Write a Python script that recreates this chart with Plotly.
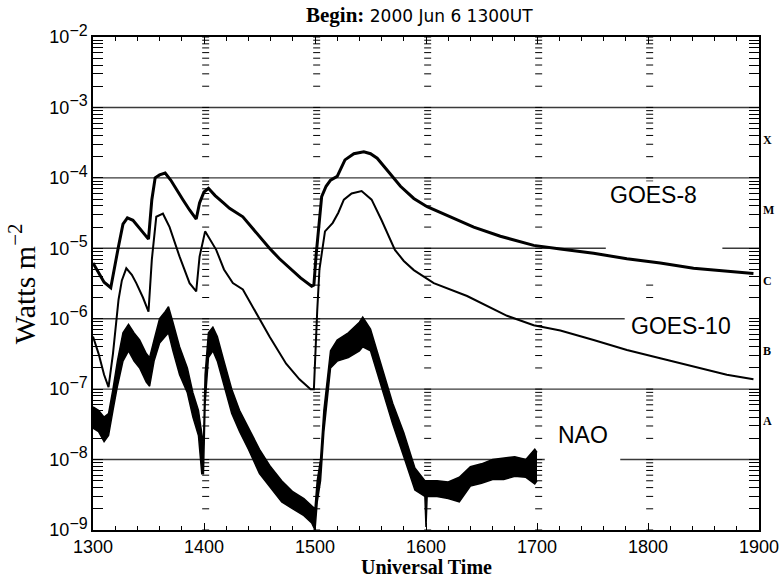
import plotly.graph_objects as go

# ---------------- data ----------------
goes8_t = [1300,1305,1310,1316,1320, 1323,1327,1331,1336,1342, 1350,1353,1356,1360,1365,
           1370,1375,1381,1387,1393, 1396,1400,1404,1410,1417, 1423,1435,1447,1459,1468,
           1477,1487,1497,1499,1501, 1503,1506,1510,1514,1520, 1527,1535,1544,1550,1556,
           1566,1577,1589,1601,1622, 1643,1667,1697,1721,1751, 1781,1811,1841,1871,1895]
goes8_v = [6.2e-6,4.5e-6,3.3e-6,2.75e-6,5.6e-6, 1.07e-5,2.2e-5,2.7e-5,2.5e-5,1.9e-5,
           1.35e-5,4.9e-5,1.0e-4,1.1e-4,1.17e-4, 9.3e-5,6.8e-5,4.9e-5,3.5e-5,2.6e-5,
           4.4e-5,6.3e-5,7.1e-5,5.6e-5,4.5e-5, 3.7e-5,2.8e-5,1.66e-5,1.0e-5,7.1e-6,
           5.2e-6,3.8e-6,2.9e-6,3.0e-6,8.0e-6, 1.6e-5,5.4e-5,7.6e-5,9.3e-5,1.05e-4,
           1.8e-4,2.2e-4,2.35e-4,2.2e-4,1.9e-4, 1.23e-4,7.6e-5,5.1e-5,3.9e-5,2.8e-5,
           2.0e-5,1.48e-5,1.1e-5,9.8e-6,8.5e-6, 7.1e-6,6.2e-6,5.2e-6,4.7e-6,4.4e-6]

goes10_t = [1300,1305,1310,1314,1318, 1323,1326,1330,1335,1339, 1345,1350,1353,1357,1363,
            1369,1378,1387,1393,1396, 1401,1406,1411,1418,1426, 1435,1447,1459,1474,1486,
            1496,1499,1502,1504,1509, 1516,1521,1526,1533,1542, 1551,1560,1572,1580,1589,
            1607,1637,1673,1697,1721, 1751,1781,1811,1841,1871, 1895]
goes10_v = [5.6e-7,3.2e-7,1.6e-7,1.07e-7,3.2e-7, 1.86e-6,3.5e-6,5.2e-6,4.2e-6,3.2e-6,
            2.0e-6,1.26e-6,6.9e-6,2.8e-5,3.1e-5, 2.0e-5,7.6e-6,3.2e-6,2.45e-6,7.6e-6,
            1.74e-5,1.3e-5,9.5e-6,5.0e-6,3.2e-6, 2.6e-6,1.2e-6,5.6e-7,2.3e-7,1.38e-7,
            1.0e-7,1.0e-7,1.3e-6,5e-6,1.74e-5, 2.3e-5,3.2e-5,4.9e-5,6.0e-5,6.5e-5,
            4.9e-5,2.5e-5,9.5e-6,6.6e-6,4.9e-6, 3.2e-6,2.1e-6,1.1e-6,8.1e-7,6.8e-7,
            5.0e-7,3.6e-7,2.75e-7,2.1e-7,1.6e-7, 1.38e-7]

nao_t = [1300,1305,1310,1314,1318, 1322,1327,1332,1337,1342, 1348,1351,1355,1360,1365,
         1368,1372,1378,1385,1390, 1395,1398,1399.5,1401,1404, 1408,1412,1418,1425,1432,
         1440,1450,1460,1470,1480, 1490,1497,1500,1502,1505, 1508,1511,1514,1520,1530,
         1540,1543,1550,1560,1570, 1580,1590,1599,1600,1601, 1610,1620,1630,1640,1650,
         1660,1670,1680,1690,1698, 1700]
nao_hi = [5.6e-8,5.0e-8,4.0e-8,4.5e-8,1.0e-7, 2.5e-7,6.3e-7,8.3e-7,6.3e-7,5.0e-7,
          3.2e-7,2.8e-7,5.0e-7,1.0e-6,1.26e-6, 1.48e-6,8.9e-7,4.0e-7,2.0e-7,8.9e-8,
          5.0e-8,2.5e-8,1.6e-8,1.6e-7,6.3e-7, 7.6e-7,5.6e-7,2.5e-7,1.0e-7,5.0e-8,
          2.8e-8,1.4e-8,7.9e-9,5.0e-9,3.5e-9, 2.8e-9,2.2e-9,2.0e-9,5.0e-9,1.0e-8,
          5.0e-8,1.26e-7,3.5e-7,5.0e-7,6.3e-7, 8.9e-7,1.05e-6,7.1e-7,2.2e-7,6.3e-8,
          2.4e-8,7.6e-9,5.0e-9,5.0e-9,5.0e-9, 5.0e-9,4.8e-9,5.6e-9,7.9e-9,8.7e-9,
          1.0e-8,1.05e-8,1.1e-8,1.0e-8,1.4e-8, 1.26e-8]
nao_lo = [2.8e-8,2.5e-8,1.8e-8,2.2e-8,5.0e-8, 1.1e-7,2.5e-7,3.5e-7,2.5e-7,2.0e-7,
          1.26e-7,1.1e-7,2.5e-7,4.5e-7,5.6e-7, 6.3e-7,3.5e-7,1.6e-7,8.9e-8,4.0e-8,
          2.2e-8,6.3e-9,6.3e-9,6.3e-8,2.8e-7, 3.5e-7,2.5e-7,1.1e-7,4.5e-8,2.5e-8,
          1.4e-8,6.3e-9,4.0e-9,2.5e-9,2.0e-9, 1.6e-9,1.26e-9,1.0e-9,2.5e-9,5.0e-9,
          2.5e-8,7.9e-8,2.0e-7,2.5e-7,2.8e-7, 3.5e-7,4.0e-7,3.5e-7,1.05e-7,3.2e-8,
          1.1e-8,3.7e-9,3.0e-9,1.1e-9,3.0e-9, 3.0e-9,2.8e-9,2.5e-9,4.2e-9,4.6e-9,
          5.2e-9,5.2e-9,5.8e-9,5.6e-9,4.5e-9, 5.0e-9]

x_tick_vals = [1300, 1400, 1500, 1600, 1700, 1800, 1900]
decade_exps = [-9, -8, -7, -6, -5, -4, -3, -2]
dash_columns = [1400, 1500, 1600, 1700, 1800]
class_letters = ["A", "B", "C", "M", "X"]
class_levels = [-7.5, -6.5, -5.5, -4.5, -3.5]       # log10 W m^-2
series_labels = ["GOES-8", "GOES-10", "NAO"]
series_label_t = [1805, 1830, 1741]
series_label_log = [-4.25, -6.11, -7.65]
# blank regions behind the labels (t0, t1, log_lo, log_hi)
label_masks = [(1762, 1867, -5.45, -4.05), (1779, 1900, -6.75, -5.9), (1707, 1775, -8.1, -7.3)]

# ---------------- figure ----------------
fig = go.Figure()

# horizontal decade lines
for e in decade_exps[1:-1]:
    fig.add_trace(go.Scatter(x=[1300, 1900], y=[10.0 ** e] * 2, mode="lines",
                             line=dict(color="#3a3a3a", width=1.4), hoverinfo="skip", showlegend=False))

# dashed log tick columns inside the plot
dx, dy = [], []
for c in dash_columns:
    for e in decade_exps[:-1]:
        for k in range(1, 10):
            dx.append(c + 1.5)
            dy.append(k * 10.0 ** e)
    dx.append(c + 1.5)
    dy.append(10.0 ** decade_exps[-1])
fig.add_trace(go.Scatter(x=dx, y=dy, mode="markers",
                         marker=dict(symbol="line-ew", size=5, line=dict(color="black", width=1)),
                         hoverinfo="skip", showlegend=False, cliponaxis=True))

# white masks behind labels
for (t0, t1, lo, hi) in label_masks:
    fig.add_trace(go.Scatter(x=[t0, t1, t1, t0, t0],
                             y=[10 ** lo, 10 ** lo, 10 ** hi, 10 ** hi, 10 ** lo],
                             mode="lines", fill="toself", fillcolor="white",
                             line=dict(width=0, color="white"), hoverinfo="skip", showlegend=False))

# NAO band
fig.add_trace(go.Scatter(x=nao_t, y=nao_lo, mode="lines", line=dict(color="black", width=1.5),
                         showlegend=False, name="NAO"))
fig.add_trace(go.Scatter(x=nao_t, y=nao_hi, mode="lines", line=dict(color="black", width=1.5),
                         fill="tonexty", fillcolor="black", showlegend=False, name="NAO"))

# GOES curves
fig.add_trace(go.Scatter(x=goes10_t, y=goes10_v, mode="lines", line=dict(color="black", width=2),
                         showlegend=False, name="GOES-10"))
fig.add_trace(go.Scatter(x=goes8_t, y=goes8_v, mode="lines", line=dict(color="black", width=3),
                         showlegend=False, name="GOES-8"))

# y ticks: every k*10^n, labels only on decades
yvals, ytext = [], []
for e in decade_exps:
    for k in range(1, 10):
        if e == decade_exps[-1] and k > 1:
            break
        yvals.append(k * 10.0 ** e)
        ytext.append("10<sup><span style='font-size:16px'>\u2212%d</span></sup>" % (-e) if k == 1 else "")

tick_font = dict(family="Liberation Sans, Arial, sans-serif", size=18, color="black")

fig.update_xaxes(range=[1300, 1900], tickvals=x_tick_vals, ticktext=[str(v) for v in x_tick_vals],
                 ticks="inside", ticklen=7, tickwidth=1, tickcolor="black",
                 minor=dict(dtick=20, ticks="inside", ticklen=4, tickcolor="black", tickwidth=1, showgrid=False),
                 showline=True, linecolor="black", linewidth=1.5, mirror="ticks",
                 showgrid=False, zeroline=False, tickfont=tick_font, automargin=False)
fig.update_yaxes(type="log", range=[-9, -2], tickvals=yvals, ticktext=ytext,
                 ticks="inside", ticklen=10, tickwidth=1, tickcolor="black",
                 showline=True, linecolor="black", linewidth=1.5, mirror="ticks",
                 showgrid=False, zeroline=False, tickfont=tick_font, automargin=False)

annotations = []
# title
annotations.append(dict(
    text="<span style='font-family:Liberation Serif;font-size:21px'><b>Begin:</b></span> 2000 Jun 6 1300UT",
    x=0.49, y=1.045, xref="paper", yref="paper", xanchor="center", yanchor="middle",
    showarrow=False, font=dict(family="DejaVu Sans, sans-serif", size=17, color="black")))
# axis titles
annotations.append(dict(text="Watts m<sup>\u22122</sup>", x=-0.107, y=0.5, xref="paper", yref="paper",
                        textangle=-90, xanchor="center", yanchor="middle", showarrow=False,
                        font=dict(family="Liberation Serif, serif", size=30, color="black")))
annotations.append(dict(text="<b>Universal Time</b>", x=0.5, y=-0.075, xref="paper", yref="paper",
                        xanchor="center", yanchor="middle", showarrow=False,
                        font=dict(family="Liberation Serif, serif", size=20, color="black")))
# GOES class letters on the right
for letter, lv in zip(class_letters, class_levels):
    annotations.append(dict(text="<b>%s</b>" % letter, x=1.0, y=lv, xref="paper", yref="y",
                            xanchor="left", yanchor="middle", xshift=2, yshift=3, showarrow=False,
                            font=dict(family="Liberation Serif, serif", size=12, color="black")))
# series labels
for lab, t, lv in zip(series_labels, series_label_t, series_label_log):
    annotations.append(dict(text=lab, x=t, y=lv, xref="x", yref="y", xanchor="center", yanchor="middle",
                            showarrow=False,
                            font=dict(family="Liberation Sans, Arial, sans-serif", size=23, color="black")))

fig.update_layout(width=782, height=577, margin=dict(l=93, r=23, t=37, b=47),
                  plot_bgcolor="white", paper_bgcolor="white", showlegend=False,
                  annotations=annotations)

fig.write_html("out.html", config={"displayModeBar": False},
               post_script="document.body.style.margin='0px';document.body.style.overflow='hidden';")
